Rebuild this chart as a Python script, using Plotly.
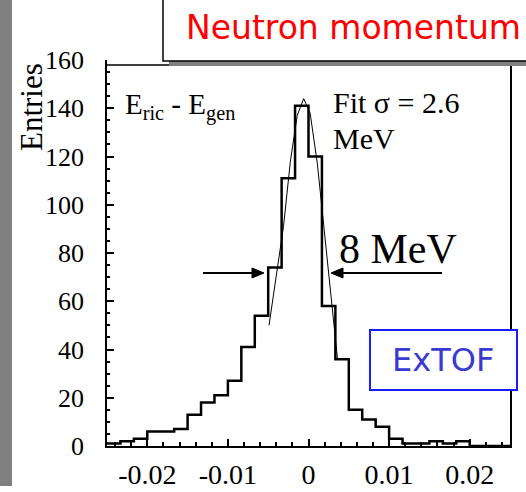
import numpy as np
import plotly.graph_objects as go

# ---------------- data ----------------
x_min, x_max, n_bins = -0.025, 0.025, 30
counts = [1, 2, 3, 6, 6, 7, 13, 18, 21, 27, 41, 54, 74, 111, 141,
          120, 58, 36, 15, 11, 8, 3, 1, 1, 2, 1, 2, 0, 0, 0]

fit_x = [-0.0049, -0.0040, -0.0031, -0.00225, -0.0014, -0.0006,
         0.0002, 0.0011, 0.0019, 0.0028, 0.0036]
fit_y = [50, 70, 91, 118, 137, 144, 138, 117, 91, 62, 36]

x_tickvals = [-0.02, -0.01, 0, 0.01, 0.02]
x_ticktext = ["-0.02", "-0.01", "0", "0.01", "0.02"]
y_tickvals = [0, 20, 40, 60, 80, 100, 120, 140, 160]

# ---------------- geometry helpers ----------------
W, H = 526, 492
L, R, T, B = 107, 16, 60, 46
PW, PH = W - L - R, H - T - B


def px(xp):
    return (xp - L) / PW


def py(yp):
    return (H - B - yp) / PH


edges = np.linspace(x_min, x_max, n_bins + 1)
step_y = counts + [counts[-1]]

serif = "Liberation Serif, Times New Roman, serif"
sans = "DejaVu Sans, sans-serif"

fig = go.Figure()
fig.add_trace(go.Scatter(x=edges, y=step_y, mode="lines", line_shape="hv",
                         line=dict(color="black", width=2.5),
                         hoverinfo="skip", showlegend=False))
fig.add_trace(go.Scatter(x=fit_x, y=fit_y, mode="lines",
                         line=dict(color="black", width=1),
                         hoverinfo="skip", showlegend=False))


def tri(points):
    return "M " + " L ".join(f"{px(a):.5f},{py(b):.5f}" for a, b in points) + " Z"


shapes = [
    # grey strip on the left
    dict(type="rect", xref="paper", yref="paper", x0=px(0), x1=px(12),
         y0=py(0), y1=py(486), fillcolor="#808080", line=dict(width=0),
         layer="above"),
    # top frame line
    dict(type="line", xref="paper", yref="paper", x0=0, x1=1,
         y0=py(65), y1=py(65), line=dict(color="black", width=1.5),
         layer="above"),
    # title box shadow
    dict(type="rect", xref="paper", yref="paper", x0=px(169), x1=px(540),
         y0=py(66), y1=py(-10), fillcolor="#808080", line=dict(width=0),
         layer="above"),
    # title box
    dict(type="rect", xref="paper", yref="paper", x0=px(163), x1=px(535),
         y0=py(61), y1=py(-10), fillcolor="white",
         line=dict(color="black", width=1.5), layer="above"),
    # ExTOF box
    dict(type="rect", xref="paper", yref="paper", x0=px(370), x1=px(517),
         y0=py(390), y1=py(330), fillcolor="white",
         line=dict(color="#1a1aff", width=2), layer="above"),
    # arrows (8 MeV width marker)
    dict(type="line", xref="paper", yref="paper", x0=px(203), x1=px(254),
         y0=py(273), y1=py(273), line=dict(color="black", width=2), layer="above"),
    dict(type="path", xref="paper", yref="paper",
         path=tri([(264, 273), (252, 268), (252, 278)]),
         fillcolor="black", line=dict(color="black", width=1), layer="above"),
    dict(type="line", xref="paper", yref="paper", x0=px(342), x1=px(442),
         y0=py(273), y1=py(273), line=dict(color="black", width=2), layer="above"),
    dict(type="path", xref="paper", yref="paper",
         path=tri([(331, 273), (343, 268), (343, 278)]),
         fillcolor="black", line=dict(color="black", width=1), layer="above"),
]

annotations = [
    dict(text="Neutron momentum", x=px(353), y=py(28), xref="paper", yref="paper",
         showarrow=False, font=dict(family=sans, size=33, color="#ff0000"),
         xanchor="center", yanchor="middle"),
    dict(text="ExTOF", x=px(443), y=py(360), xref="paper", yref="paper",
         showarrow=False, font=dict(family=sans, size=32, color="#3a3ad0"),
         xanchor="center", yanchor="middle"),
    dict(text="Entries", x=px(31), y=py(107), xref="paper", yref="paper",
         showarrow=False, textangle=-90, font=dict(family=serif, size=31, color="black"),
         xanchor="center", yanchor="middle"),
    dict(text="E<sub>ric</sub> - E<sub>gen</sub>", x=px(123), y=py(106),
         xref="paper", yref="paper", showarrow=False,
         font=dict(family=serif, size=29, color="black"),
         xanchor="left", yanchor="middle"),
    dict(text="Fit σ = 2.6", x=px(331), y=py(102), xref="paper", yref="paper",
         showarrow=False, font=dict(family=serif, size=30, color="black"),
         xanchor="left", yanchor="middle"),
    dict(text="MeV", x=px(331), y=py(138), xref="paper", yref="paper",
         showarrow=False, font=dict(family=serif, size=30, color="black"),
         xanchor="left", yanchor="middle"),
    dict(text="8 MeV", x=px(337), y=py(249), xref="paper", yref="paper",
         showarrow=False, font=dict(family=serif, size=42, color="black"),
         xanchor="left", yanchor="middle"),
]

fig.update_layout(
    width=W, height=H, autosize=False,
    margin=dict(l=L, r=R, t=T, b=B, pad=0),
    paper_bgcolor="white", plot_bgcolor="white",
    showlegend=False,
    shapes=shapes, annotations=annotations,
    xaxis=dict(range=[x_min, x_max], tickvals=x_tickvals, ticktext=x_ticktext,
               ticks="inside", ticklen=7, tickwidth=1.5, tickcolor="black",
               minor=dict(dtick=0.002, ticks="inside", ticklen=4, tickcolor="black",
                          showgrid=False),
               showgrid=False, zeroline=False, showline=True, linecolor="black",
               linewidth=2, mirror=False, automargin=False,
               tickfont=dict(family=serif, size=28, color="black"),
               ticklabelstandoff=2),
    yaxis=dict(range=[0, 160], tickvals=y_tickvals,
               ticks="inside", ticklen=7, tickwidth=1.5, tickcolor="black",
               minor=dict(dtick=5, ticks="inside", ticklen=3, tickcolor="black",
                          showgrid=False),
               showgrid=False, zeroline=False, showline=True, linecolor="black",
               linewidth=1.5, mirror=True, automargin=False,
               tickfont=dict(family=serif, size=26, color="black"),
               ticklabelstandoff=16),
)

fig.write_html("out.html", config={"displayModeBar": False},
               post_script="document.body.style.margin='0';document.body.style.overflow='hidden';")
